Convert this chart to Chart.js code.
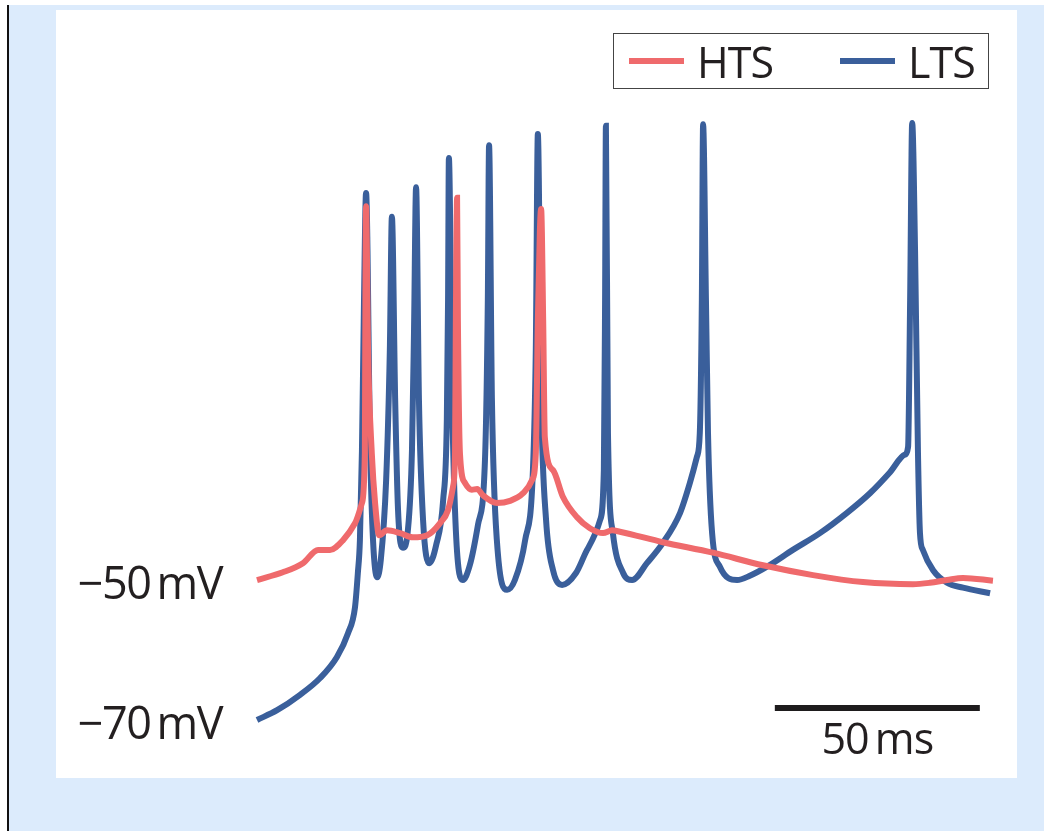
<!DOCTYPE html>
<html>
<head>
<meta charset="utf-8">
<script src="https://cdn.jsdelivr.net/npm/chart.js"></script>
<style>
  body { margin: 0; background: #fff; font-family: "Open Sans", sans-serif; color: #231f20; }
  .page { position: relative; width: 1044px; height: 831px; overflow: hidden; }
  .blue-bg { position: absolute; left: 9px; top: 5px; right: 0; bottom: 0; background: #dcebfc; }
  .rule { position: absolute; left: 7px; top: 5px; width: 2px; bottom: 0; background: #111; }
  .panel { position: absolute; left: 56px; top: 10px; width: 961px; height: 768px; background: #fff; }
  canvas { position: absolute; left: 0; top: 0; }
  .legend { position: absolute; left: 613px; top: 33px; width: 374px; height: 54px; border: 1.5px solid #444; }
  .legend .item { position: absolute; top: 0; height: 54px; display: flex; align-items: center; font-size: 43px; letter-spacing: -1px; }
  .legend .swatch { display: inline-block; width: 55px; height: 6px; margin-right: 13px; }
  .vlabel { position: absolute; font-size: 45px; line-height: 1; text-align: right; white-space: nowrap; letter-spacing: -1.5px; }
  .tlabel { position: absolute; font-size: 43px; line-height: 1; white-space: nowrap; letter-spacing: -1px; transform: translateX(-50%); }
</style>
</head>
<body>
<div class="page">
  <div class="blue-bg"></div>
  <div class="rule"></div>
  <div class="panel"></div>
  <canvas id="myChart" width="1044" height="831"></canvas>
  <div class="legend" id="legend"></div>
</div>
<script>
// membrane potential traces, time in ms, voltage in mV
const htsTime = [0, 6.3, 11.2, 14.9, 17.8, 21.0, 23.9, 25.6, 26.3, 26.4, 26.6,
  27.1, 28.0, 28.8, 29.8, 31.7, 34.9, 38.0, 41.5, 44.6, 46.6, 47.8, 48.3, 48.5, 48.8,
  49.0, 49.5, 50.7, 52.4, 53.7, 55.1, 58.5, 61.7, 64.9, 67.1, 68.0, 68.5, 69.0, 69.3,
  69.8, 70.2, 72.2, 74.6, 78.0, 81.2, 84.4, 86.6, 88.5, 99.0, 111.2, 123.4, 135.6, 147.8,
  160.0, 164.1, 168.3, 172.2, 179.5];
const htsVoltage = [-50, -48.9, -47.6, -45.7, -45.7, -44.3, -41.9, -39.0, -31.9, -17.1, 3.4,
  -17.6, -31.9, -39.0, -43.6, -42.9, -43.3, -43.9, -43.6, -41.9, -40.0, -36.7, -31.9, -12.9, 4.6,
  -12.9, -31.9, -36.1, -37.1, -37.0, -37.9, -39.0, -38.7, -37.6, -35.7, -31.9, -12.9, 0.0, 3.0,
  -12.9, -29.6, -34.3, -38.1, -41.0, -42.6, -43.3, -42.9, -43.1, -44.6, -46.1, -47.9, -49.3, -50.3,
  -50.6, -50.4, -50.0, -49.7, -50.1];

const ltsTime = [0, 4.9, 10.5, 15.4, 19.5, 22.2, 23.9, 24.6, 25.1, 25.6, 26.1, 26.6,
  27.6, 28.3, 29.3, 30.2, 31.5, 32.4, 32.9,
  33.7, 34.4, 35.6, 36.8, 37.8, 38.3, 38.8,
  39.5, 40.5, 42.0, 43.7, 45.4, 46.3, 46.6, 46.8,
  47.6, 48.5, 50.2, 51.9, 53.9, 55.6, 56.3, 56.6,
  57.3, 58.5, 61.0, 62.9, 65.4, 67.3, 68.0, 68.5,
  69.3, 70.5, 72.2, 74.4, 77.8, 80.5, 83.7, 84.6, 84.9, 85.1,
  85.6, 86.8, 89.3, 91.5, 95.1, 99.0, 103.2, 105.6, 107.3, 108.0, 108.5, 108.8,
  109.5, 110.0, 111.0, 112.9, 117.1, 120.2, 124.4, 130.7, 137.3, 143.9, 149.5, 154.4, 158.0, 158.8, 159.3, 159.8,
  160.5, 161.2, 161.7, 162.4, 164.9, 168.3, 172.2, 178.8];
const ltsVoltage = [-70, -68.6, -66.4, -64.0, -61.0, -57.6, -53.9, -49.0, -44.3, -31.4, -10.0, 5.3,
  -31.4, -44.3, -49.6, -47.1, -35.7, -17.1, 1.9,
  -24.3, -40.0, -45.4, -42.9, -31.4, -14.3, 6.1,
  -24.3, -41.4, -47.6, -45.0, -38.6, -27.1, -10.0, 10.3,
  -24.3, -42.9, -50.0, -47.9, -42.1, -32.9, -10.0, 12.1,
  -24.3, -44.3, -51.4, -50.0, -44.3, -34.3, -17.1, 13.7,
  -24.3, -41.4, -48.6, -50.7, -49.0, -45.7, -41.4, -34.3, -10.0, 14.9,
  -29.0, -43.3, -49.0, -50.0, -47.6, -44.7, -40.4, -36.1, -32.4, -29.0, -10.0, 15.1,
  -10.0, -29.0, -43.3, -48.1, -50.0, -49.4, -48.1, -45.7, -43.3, -40.4, -37.6, -34.6, -32.1, -31.0, -10.0, 15.3,
  -2.9, -31.4, -43.3, -45.7, -48.6, -50.4, -51.1, -51.9];

const seriesNames = ["HTS", "LTS"];
const voltageLabels = [-50, -70];
const scaleBarMs = 50;
const scaleBarStart = 126.3;
const scaleBarLevel = -68.3;

const RED = "#ef6a6c";
const BLUE = "#3a5f9b";

const toPoints = (ts, vs) => ts.map((t, i) => ({ x: t, y: vs[i] }));

const scaleBar = {
  id: "scaleBar",
  afterDatasetsDraw(chart) {
    const { ctx, scales } = chart;
    const x0 = scales.x.getPixelForValue(scaleBarStart);
    const x1 = scales.x.getPixelForValue(scaleBarStart + scaleBarMs);
    const y = scales.y.getPixelForValue(scaleBarLevel);
    ctx.save();
    ctx.strokeStyle = "#1e1c1d";
    ctx.lineWidth = 6;
    ctx.beginPath();
    ctx.moveTo(x0, y);
    ctx.lineTo(x1, y);
    ctx.stroke();
    ctx.restore();
  }
};

const ctx = document.getElementById("myChart");
const myChart = new Chart(ctx, {
  type: "line",
  data: {
    datasets: [
      {
        label: seriesNames[0],
        data: toPoints(htsTime, htsVoltage),
        borderColor: RED,
        borderWidth: 6,
        pointRadius: 0,
        cubicInterpolationMode: "monotone",
        clip: false,
      },
      {
        label: seriesNames[1],
        data: toPoints(ltsTime, ltsVoltage),
        borderColor: BLUE,
        borderWidth: 6,
        pointRadius: 0,
        cubicInterpolationMode: "monotone",
        clip: false,
      },
    ],
  },
  options: {
    responsive: false,
    animation: false,
    layout: { padding: { left: 257, right: 49, top: 90, bottom: 76 } },
    scales: {
      x: { type: "linear", min: 0, max: 180, display: false },
      y: { min: -75, max: 20, display: false },
    },
    plugins: {
      legend: { display: false },
      tooltip: { enabled: false },
    },
  },
  plugins: [scaleBar],
});

// legend built from the datasets
const legend = document.getElementById("legend");
const itemLeft = [15, 226];
myChart.data.datasets.forEach((ds, i) => {
  const item = document.createElement("div");
  item.className = "item";
  item.style.left = itemLeft[i] + "px";
  const sw = document.createElement("span");
  sw.className = "swatch";
  sw.style.background = ds.borderColor;
  item.appendChild(sw);
  item.appendChild(document.createTextNode(ds.label));
  legend.appendChild(item);
});

// voltage labels placed at the scale's pixels
const page = document.querySelector(".page");
voltageLabels.forEach((v) => {
  const el = document.createElement("div");
  el.className = "vlabel";
  el.textContent = "\u2212" + Math.abs(v) + "\u2009mV";
  page.appendChild(el);
  const y = myChart.scales.y.getPixelForValue(v);
  el.style.right = (1044 - 222) + "px";
  el.style.top = (y - el.offsetHeight / 2 + 1) + "px";
});

// time scale bar label
const tl = document.createElement("div");
tl.className = "tlabel";
tl.textContent = scaleBarMs + "\u2009ms";
page.appendChild(tl);
tl.style.left = myChart.scales.x.getPixelForValue(scaleBarStart + scaleBarMs / 2) + "px";
tl.style.top = (myChart.scales.y.getPixelForValue(scaleBarLevel) + 8) + "px";
</script>
</body>
</html>
